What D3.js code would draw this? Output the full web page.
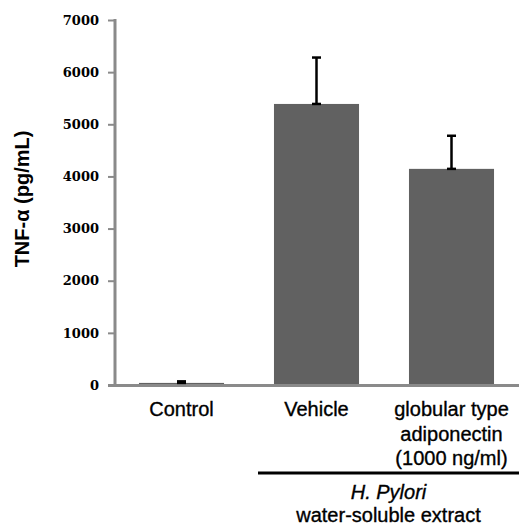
<!DOCTYPE html>
<html>
<head>
<meta charset="utf-8">
<script src="https://cdn.jsdelivr.net/npm/d3@7"></script>
<style>
  body { margin: 0; background: #fff; }
  .cat { font-family: "Liberation Sans", Arial, sans-serif; font-size: 20px; fill: #000; stroke: #000; stroke-width: 0.35px; }
  .ytick text { font-family: "DejaVu Serif", serif; font-weight: bold; font-size: 13px; fill: #000; }
</style>
</head>
<body>
<div id="chart"></div>
<script>
const categories = ["Control", "Vehicle", "globular type adiponectin"];
const catLines = [["Control"], ["Vehicle"], ["globular type", "adiponectin", "(1000 ng/ml)"]];
const means = [40, 5390, 4145];
const errors = [30, 890, 635];
const yTicks = [0, 1000, 2000, 3000, 4000, 5000, 6000, 7000];

const svg = d3.select("#chart")
  .append("svg")
  .attr("width", 526)
  .attr("height", 527);

const x = d3.scaleBand()
  .domain(categories)
  .range([114, 519])
  .paddingInner(0.37)
  .paddingOuter(0.185);

const y = d3.scaleLinear()
  .domain([0, 7000])
  .range([385, 20]);

// y axis
const yAxis = svg.append("g")
  .attr("class", "ytick")
  .attr("transform", "translate(115,0)")
  .call(d3.axisLeft(y).tickValues(yTicks).tickSize(7).tickSizeOuter(0).tickPadding(9).tickFormat(d3.format("d")));
yAxis.select(".domain").remove();
yAxis.selectAll(".tick line").attr("stroke", "#8a8a8a").attr("stroke-width", 2);
svg.append("line")
  .attr("x1", 115).attr("x2", 115)
  .attr("y1", y(7000) - 1).attr("y2", y(0) + 1)
  .attr("stroke", "#8a8a8a").attr("stroke-width", 3);

// bars
svg.selectAll("rect.bar")
  .data(categories)
  .enter()
  .append("rect")
  .attr("class", "bar")
  .attr("x", d => x(d))
  .attr("width", x.bandwidth())
  .attr("y", (d, i) => y(means[i]))
  .attr("height", (d, i) => y(0) - y(means[i]))
  .attr("fill", "#616161");

// x axis line
svg.append("line")
  .attr("x1", 108).attr("x2", 519)
  .attr("y1", y(0) + 0.5).attr("y2", y(0) + 0.5)
  .attr("stroke", "#8a8a8a").attr("stroke-width", 3);

// error bars
const err = svg.append("g").attr("stroke", "#000").attr("stroke-width", 2.5);
categories.forEach((c, i) => {
  const cx = x(c) + x.bandwidth() / 2;
  const top = y(means[i] + errors[i]);
  const base = y(means[i]);
  err.append("line").attr("x1", cx).attr("x2", cx).attr("y1", base).attr("y2", top);
  err.append("line").attr("x1", cx - 4.5).attr("x2", cx + 4.5).attr("y1", top).attr("y2", top);
  err.append("line").attr("x1", cx - 4.5).attr("x2", cx + 4.5).attr("y1", base).attr("y2", base);
});

// category labels
categories.forEach((c, i) => {
  const t = svg.append("text")
    .attr("class", "cat")
    .attr("text-anchor", "middle")
    .attr("x", x(c) + x.bandwidth() / 2)
    .attr("y", 416);
  catLines[i].forEach((line, j) => {
    t.append("tspan")
      .attr("x", x(c) + x.bandwidth() / 2)
      .attr("dy", j === 0 ? 0 : 24.5)
      .text(line);
  });
});

// y title
svg.append("text")
  .attr("transform", "translate(29,199) rotate(-90)")
  .attr("text-anchor", "middle")
  .style("font-family", "'Liberation Sans', Arial, sans-serif")
  .style("font-weight", "bold")
  .style("font-size", "20px")
  .text("TNF-α (pg/mL)");

// group bracket
const gx0 = 258, gx1 = 519;
svg.append("line")
  .attr("x1", gx0).attr("x2", gx1)
  .attr("y1", 473).attr("y2", 473)
  .attr("stroke", "#000").attr("stroke-width", 3);
svg.append("text")
  .attr("class", "cat")
  .attr("text-anchor", "middle")
  .attr("x", (gx0 + gx1) / 2)
  .attr("y", 499)
  .style("font-style", "italic")
  .text("H. Pylori");
svg.append("text")
  .attr("class", "cat")
  .attr("text-anchor", "middle")
  .attr("x", (gx0 + gx1) / 2)
  .attr("y", 522)
  .text("water-soluble extract");
</script>
</body>
</html>
